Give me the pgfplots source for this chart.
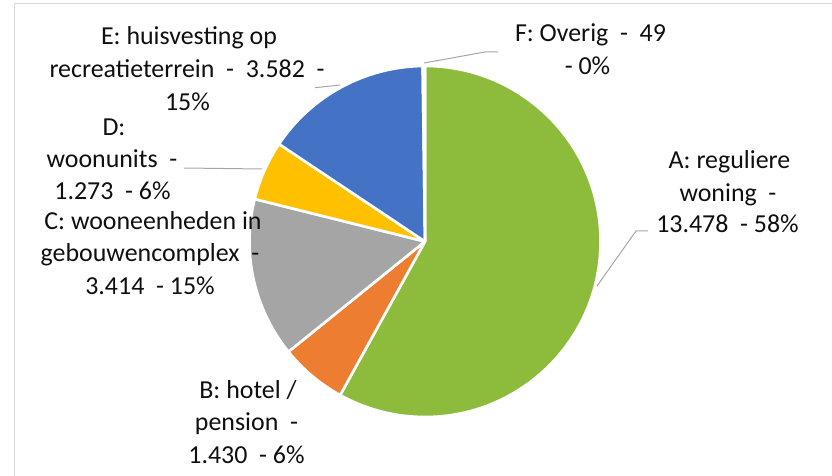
\documentclass[border=0pt]{standalone}
\usepackage{pgfplots}
\usepackage{pgfplotstable}
\pgfplotsset{compat=1.18}
\usepackage{fontspec}
\setmainfont{Carlito}
\definecolor{colA}{RGB}{141,188,60}
\definecolor{colB}{RGB}{237,125,49}
\definecolor{colC}{RGB}{165,165,165}
\definecolor{colD}{RGB}{255,192,0}
\definecolor{colE}{RGB}{68,114,196}
\definecolor{colF}{RGB}{91,155,213}
\definecolor{leader}{RGB}{166,166,166}
\definecolor{frame}{RGB}{217,217,217}
\definecolor{txt}{RGB}{15,15,15}

\pgfplotstableread{
label value color
A 13478 colA
B 1430 colB
C 3414 colC
D 1273 colD
E 3582 colE
F 49 colF
}\piedata

\begin{document}
\begin{tikzpicture}
% total (in thousands, to stay within pgfmath range)
\def\total{0}
\pgfplotsforeachungrouped \i in {0,...,5}{%
  \pgfplotstablegetelem{\i}{value}\of\piedata
  \pgfmathsetmacro\total{\total+\pgfplotsretval/1000}%
}
\begin{axis}[
  hide axis, scale only axis,
  x=1bp, y=1bp,
  xmin=0, xmax=832, ymin=0, ymax=476,
  clip=false,
]
% frame (cropped)
\draw[frame, line width=1bp] (axis cs:14,0) -- (axis cs:14,472) -- (axis cs:832,472);
% slices, clockwise from 12 o'clock
\def\startang{90}
\pgfplotsforeachungrouped \i in {0,...,5}{%
  \pgfplotstablegetelem{\i}{value}\of\piedata
  \pgfmathsetmacro\sweep{\pgfplotsretval/1000/\total*360}%
  \pgfmathsetmacro\endang{\startang-\sweep}%
  \pgfplotstablegetelem{\i}{color}\of\piedata
  \let\col\pgfplotsretval
  \edef\temp{\noexpand\filldraw[fill=\col, draw=white, line width=2.6bp, line join=round]
     (axis cs:425,234.5) -- ++(\startang:175.5bp)
     arc[start angle=\startang, end angle=\endang, radius=175.5bp] -- cycle;}%
  \temp
  \global\let\startang\endang
}
% leader lines
\addplot[leader, line width=1bp, no marks] coordinates {(315,388.3) (340,391)};
\addplot[leader, line width=1bp, no marks] coordinates {(184,308) (262,307)};
\addplot[leader, line width=1bp, no marks] coordinates {(424,413) (485,424) (498,424)};
\addplot[leader, line width=1bp, no marks] coordinates {(597,190) (636,245) (648,245)};
% labels
\tikzset{lbl/.style={anchor=base, inner sep=0pt, text=txt, font=\fontsize{26}{31}\selectfont}}
\node[lbl] at (axis cs:189,431) {E: huisvesting op};
\node[lbl] at (axis cs:187,398.5) {recreatieterrein~ -~ 3.582~ -};
\node[lbl] at (axis cs:187.5,366) {15\%};
\node[lbl] at (axis cs:114,340.3) {D:};
\node[lbl] at (axis cs:112,308.3) {woonunits~ -};
\node[lbl] at (axis cs:112.5,277) {1.273~ - 6\%};
\node[lbl] at (axis cs:153,247) {C: wooneenheden in};
\node[lbl] at (axis cs:150,214.5) {gebouwencomplex~ -};
\node[lbl] at (axis cs:150,182) {3.414~ - 15\%};
\node[lbl] at (axis cs:248,77.7) {B: hotel /};
\node[lbl] at (axis cs:246.5,45.3) {pension~ -};
\node[lbl] at (axis cs:246.5,12.7) {1.430~ - 6\%};
\node[lbl] at (axis cs:590.5,434) {F: Overig~ -~ 49};
\node[lbl] at (axis cs:587.5,401) {- 0\%};
\node[lbl] at (axis cs:729.5,307.7) {A: reguliere};
\node[lbl] at (axis cs:728,275) {woning~ -};
\node[lbl] at (axis cs:727.5,243.3) {13.478~ - 58\%};
\end{axis}
\pgfresetboundingbox
\useasboundingbox (0,0) rectangle (832bp,476bp);
\end{tikzpicture}
\end{document}
